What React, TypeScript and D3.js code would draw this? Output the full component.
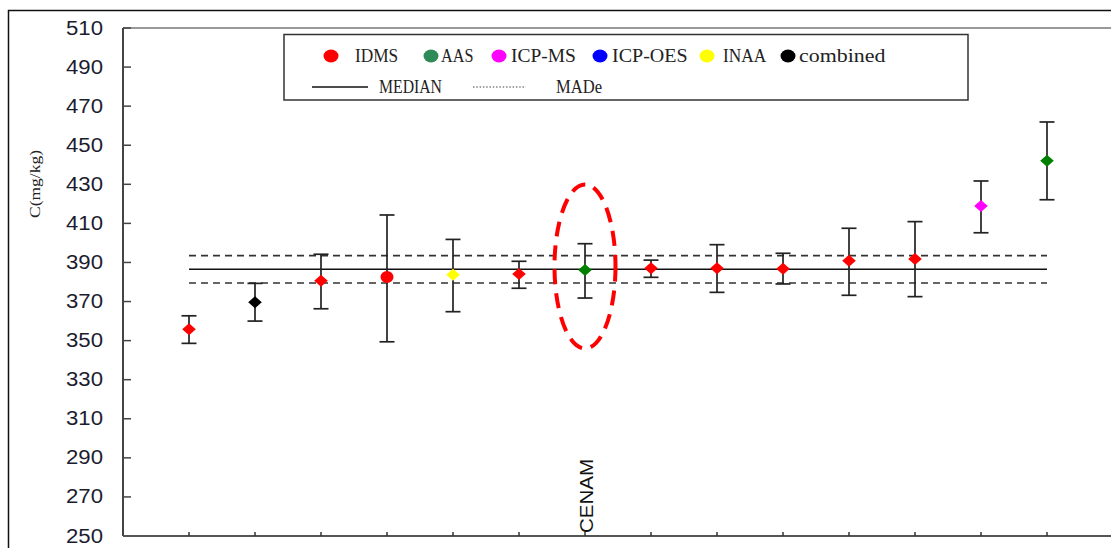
import React from "react";
import * as d3 from "d3";

// ---- data ----
const categories = ["", "", "", "", "", "", "CENAM", "", "", "", "", "", "", ""];
const values = [355.8, 369.6, 380.7, 382.5, 383.7, 384.1, 386.1, 387.0, 387.0, 386.8, 390.9, 391.8, 418.9, 442.1];
const upper = [362.7, 379.3, 394.2, 414.3, 401.8, 390.6, 399.6, 391.2, 399.1, 394.7, 407.5, 410.9, 431.7, 461.9];
const lower = [348.6, 360.0, 366.3, 349.4, 364.8, 376.8, 371.8, 382.4, 374.7, 379.0, 373.2, 372.5, 405.2, 422.1];
const methods = ["IDMS", "combined", "IDMS", "IDMS", "INAA", "IDMS", "AAS", "IDMS", "IDMS", "IDMS", "IDMS", "IDMS", "ICP-MS", "AAS"];
const shapes = ["diamond", "diamond", "diamond", "circle", "diamond", "diamond", "diamond", "diamond", "diamond", "diamond", "diamond", "diamond", "diamond", "diamond"];
const median = 386.5;
const made = 7.0;
const yTicks = [250, 270, 290, 310, 330, 350, 370, 390, 410, 430, 450, 470, 490, 510];

const legendNames = ["IDMS", "AAS", "ICP-MS", "ICP-OES", "INAA", "combined"];
const legendColors = ["#ff0000", "#2e8b57", "#ff00ff", "#0000ff", "#ffff00", "#000000"];
const markerColors: Record<string, string> = {
  IDMS: "#ff0000",
  AAS: "#008000",
  "ICP-MS": "#ff00ff",
  "ICP-OES": "#0000ff",
  INAA: "#ffff00",
  combined: "#000000",
};

export default function App() {
  const W = 1111, H = 548;
  const left = 123, top = 28, bottom = 536;
  const step = 66;
  const x = d3.scaleLinear().domain([0, 15]).range([left, left + step * 15]);
  const y = d3.scaleLinear().domain([250, 510]).range([bottom, top]);

  const idx = values.map((_, i) => i + 1);
  const x0 = x(1), x1 = x(values.length);

  const legendDotX = [331, 431, 499, 600, 707, 788];
  const legendTextX = [355, 441, 511, 612, 723, 799];
  const legFont = "Liberation Serif, Times New Roman, serif";

  const diamond = (cx: number, cy: number, hw: number, hh: number) =>
    `M${cx},${cy - hh}L${cx + hw},${cy}L${cx},${cy + hh}L${cx - hw},${cy}Z`;

  return (
    <svg width={W} height={H} style={{ position: "absolute", left: 0, top: 0, background: "#fff" }}>
      {/* outer frame */}
      <rect x={8.5} y={10.5} width={1200} height={600} fill="none" stroke="#111" strokeWidth={1.5} />
      {/* plot frame top */}
      <line x1={left} x2={W} y1={top} y2={top} stroke="#777" strokeWidth={1.5} />
      {/* y axis */}
      <line x1={left} x2={left} y1={top} y2={bottom} stroke="#444" strokeWidth={2} />
      {yTicks.map((t) => (
        <g key={t}>
          <line x1={left} x2={left + 8} y1={y(t)} y2={y(t)} stroke="#444" strokeWidth={1.5} />
          <text x={103} y={y(t) + 6.5} textAnchor="end" fontFamily="Liberation Sans, Arial, sans-serif"
            fontSize={19.5} fill="#1c1c30" textLength={37} lengthAdjust="spacingAndGlyphs">{t}</text>
        </g>
      ))}
      {/* x axis */}
      <line x1={left} x2={W} y1={bottom} y2={bottom} stroke="#555" strokeWidth={2} />
      {idx.map((i) => (
        <line key={i} x1={x(i)} x2={x(i)} y1={bottom} y2={bottom - 4} stroke="#333" strokeWidth={1.5} />
      ))}
      {categories.map((c, k) =>
        c ? (
          <text key={k} transform={`translate(${x(k + 1) + 8},${bottom - 3}) rotate(-90)`}
            fontFamily="Liberation Sans, Arial, sans-serif" fontSize={19} fill="#111"
            textLength={74} lengthAdjust="spacingAndGlyphs">{c}</text>
        ) : null
      )}
      {/* y axis title */}
      <text transform={`translate(40,184) rotate(-90)`} textAnchor="middle"
        fontFamily="Liberation Serif, Times New Roman, serif" fontSize={14} fill="#222"
        textLength={68} lengthAdjust="spacingAndGlyphs">C(mg/kg)</text>

      {/* median & MADe */}
      <line x1={x0} x2={x1} y1={y(median)} y2={y(median)} stroke="#111" strokeWidth={1.6} />
      <line x1={x0} x2={x1} y1={y(median + made)} y2={y(median + made)} stroke="#333" strokeWidth={1.6} strokeDasharray="7,5" />
      <line x1={x0} x2={x1} y1={y(median - made)} y2={y(median - made)} stroke="#333" strokeWidth={1.6} strokeDasharray="7,5" />

      {/* error bars */}
      {values.map((v, k) => {
        const cx = x(k + 1);
        return (
          <g key={k} stroke="#222" strokeWidth={1.7}>
            <line x1={cx} x2={cx} y1={y(upper[k])} y2={y(lower[k])} />
            <line x1={cx - 7.5} x2={cx + 7.5} y1={y(upper[k])} y2={y(upper[k])} />
            <line x1={cx - 7.5} x2={cx + 7.5} y1={y(lower[k])} y2={y(lower[k])} />
          </g>
        );
      })}
      {/* markers */}
      {values.map((v, k) => {
        const cx = x(k + 1), cy = y(v);
        const col = markerColors[methods[k]];
        return shapes[k] === "circle" ? (
          <ellipse key={k} cx={cx} cy={cy} rx={6.5} ry={6} fill={col} />
        ) : (
          <path key={k} d={diamond(cx, cy, 6.8, 6)} fill={col} />
        );
      })}

      {/* highlight ellipse */}
      <ellipse cx={x(7)} cy={266.5} rx={30.5} ry={82} fill="none" stroke="#ff0000" strokeWidth={4} strokeDasharray="15,9" />

      {/* legend */}
      <rect x={284} y={34.5} width={684} height={65.5} fill="#fff" stroke="#333" strokeWidth={1.5} />
      {legendNames.map((n, k) => (
        <g key={n}>
          <ellipse cx={legendDotX[k]} cy={56} rx={7.5} ry={6.5} fill={legendColors[k]} />
          <text x={legendTextX[k]} y={62} fontFamily={legFont} fontSize={18}
            fill="#222" textLength={n.length * 10.8} lengthAdjust="spacingAndGlyphs">{n}</text>
        </g>
      ))}
      <line x1={312} x2={368} y1={87} y2={87} stroke="#111" strokeWidth={1.5} />
      <text x={379} y={93} fontFamily={legFont} fontSize={18} fill="#222"
        textLength={63} lengthAdjust="spacingAndGlyphs">MEDIAN</text>
      <line x1={473} x2={526} y1={87} y2={87} stroke="#444" strokeWidth={1.2} strokeDasharray="1.5,1.8" />
      <text x={556} y={93} fontFamily={legFont} fontSize={18} fill="#222"
        textLength={46} lengthAdjust="spacingAndGlyphs">MADe</text>
    </svg>
  );
}
